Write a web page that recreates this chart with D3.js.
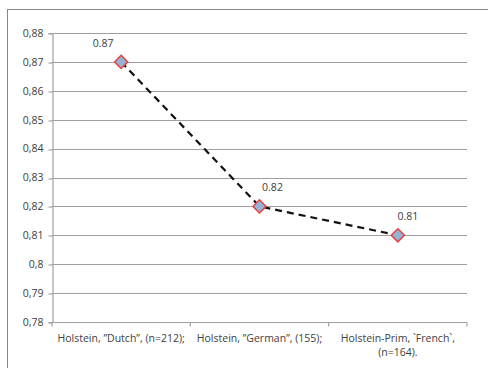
<!DOCTYPE html>
<html>
<head>
<meta charset="utf-8">
<script src="https://cdn.jsdelivr.net/npm/d3@7"></script>
<style>
  html, body { margin: 0; padding: 0; background: #fff; }
  svg text { font-family: "Open Sans", "Noto Sans", sans-serif; fill: #404040; }
</style>
</head>
<body>
<svg id="chart" width="488" height="368"></svg>
<script>
// Breed groups and their values
const categories = [
  ["Holstein, \u201dDutch\u201d, (n=212);"],
  ["Holstein, \u201dGerman\u201d, (155);"],
  ["Holstein-Prim, `French`,", "(n=164)."]
];
const values = [0.87, 0.82, 0.81];
const valueLabels = ["0.87", "0.82", "0.81"];
const yTicks = [0.78, 0.79, 0.8, 0.81, 0.82, 0.83, 0.84, 0.85, 0.86, 0.87, 0.88];

const svg = d3.select("#chart");

// Outer chart frame
svg.append("rect")
  .attr("x", 7.5).attr("y", 9.5)
  .attr("width", 490).attr("height", 370)
  .attr("fill", "none").attr("stroke", "#888").attr("stroke-width", 1);

const plot = { left: 52, right: 467, top: 33, bottom: 322 };

const x = d3.scaleBand()
  .domain(d3.range(categories.length))
  .range([plot.left, plot.right])
  .padding(0);

const y = d3.scaleLinear()
  .domain([0.78, 0.88])
  .range([plot.bottom, plot.top]);

const fmt = d => d3.format(".2~f")(d).replace(".", ",");

// Horizontal gridlines
svg.append("g")
  .selectAll("line")
  .data(yTicks.slice(1))
  .join("line")
  .attr("x1", plot.left).attr("x2", plot.right)
  .attr("y1", d => Math.round(y(d)) + 0.5).attr("y2", d => Math.round(y(d)) + 0.5)
  .attr("stroke", "#a0a0a0").attr("stroke-width", 1.2);

// Y axis
const yAxis = d3.axisLeft(y).tickValues(yTicks).tickFormat(fmt).tickSize(4).tickPadding(5);
const gy = svg.append("g").attr("transform", `translate(${plot.left + 0.5},0)`).call(yAxis);
gy.select(".domain").attr("stroke", "#a0a0a0").attr("stroke-width", 1.2);
gy.selectAll(".tick line").attr("stroke", "#a0a0a0").attr("stroke-width", 1.2)
  .attr("transform", d => `translate(0,${Math.round(y(d)) + 0.5 - y(d)})`);
gy.selectAll(".tick text").attr("font-size", 10.5).attr("fill", "#404040")
  .style("font-family", "'Open Sans', 'Noto Sans', sans-serif");

// X axis with ticks at category boundaries
const gx = svg.append("g").attr("transform", `translate(0,${plot.bottom + 0.5})`);
gx.append("line")
  .attr("x1", plot.left).attr("x2", plot.right)
  .attr("stroke", "#a0a0a0").attr("stroke-width", 1.2);
gx.selectAll("line.tick")
  .data(d3.range(categories.length + 1))
  .join("line")
  .attr("class", "tick")
  .attr("x1", i => i < categories.length ? x(i) : plot.right)
  .attr("x2", i => i < categories.length ? x(i) : plot.right)
  .attr("y1", 0).attr("y2", 4)
  .attr("stroke", "#a0a0a0").attr("stroke-width", 1.2);

const catText = gx.selectAll("text.cat")
  .data(categories)
  .join("text")
  .attr("class", "cat")
  .attr("text-anchor", "middle")
  .attr("font-size", 10.5)
  .attr("x", (d, i) => x(i) + x.bandwidth() / 2)
  .attr("y", 19);
catText.selectAll("tspan")
  .data(d => d)
  .join("tspan")
  .attr("x", function () { return d3.select(this.parentNode).attr("x"); })
  .attr("dy", (d, i) => i === 0 ? 0 : 14)
  .text(d => d);

// Dashed connecting line
const cx = i => x(i) + x.bandwidth() / 2;
const line = d3.line().x((d, i) => cx(i)).y(d => y(d));
svg.append("path")
  .datum(values)
  .attr("d", line)
  .attr("fill", "none")
  .attr("stroke", "#111")
  .attr("stroke-width", 2.2)
  .attr("stroke-dasharray", "7,5");

// Diamond markers
const diamond = d3.symbol().type(d3.symbolDiamond2).size(110);
svg.append("g")
  .selectAll("path")
  .data(values)
  .join("path")
  .attr("d", diamond)
  .attr("transform", (d, i) => `translate(${cx(i)},${y(d)})`)
  .attr("fill", "#95b3d7")
  .attr("stroke", "#e8413f")
  .attr("stroke-width", 1.5);

// Value labels above each marker
const labelShift = [-18, 13, 10];
svg.append("g")
  .selectAll("text")
  .data(values)
  .join("text")
  .attr("text-anchor", "middle")
  .attr("font-size", 10.5)
  .attr("x", (d, i) => cx(i) + labelShift[i])
  .attr("y", d => y(d) - 15)
  .text((d, i) => valueLabels[i]);
</script>
</body>
</html>
